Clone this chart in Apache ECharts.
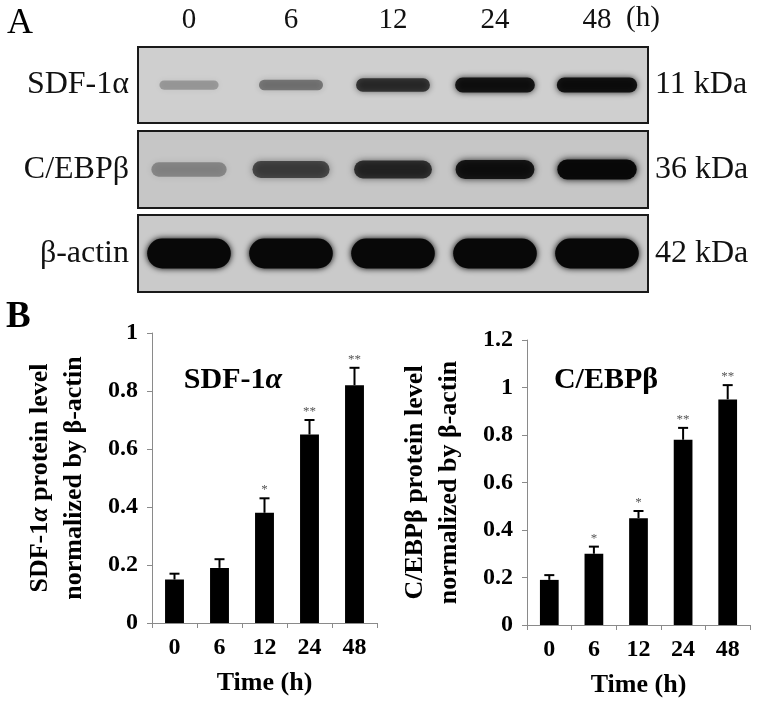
<!DOCTYPE html>
<html>
<head>
<meta charset="utf-8">
<script src="https://cdn.jsdelivr.net/npm/echarts@6/dist/echarts.min.js"></script>
<style>html,body{margin:0;padding:0;background:#fff}#c{width:758px;height:705px}</style>
</head>
<body>
<div id="c"></div>
<script>
// ---- data ----
const lanes = ['0', '6', '12', '24', '48'];
const rowNames = ['SDF-1α', 'C/EBPβ', 'β-actin'];
const rowSizes = ['11 kDa', '36 kDa', '42 kDa'];
// relative band darkness on the blot (0..1)
const sdfBand = [0.25, 0.4, 0.7, 0.88, 0.9];
const cebpBand = [0.3, 0.6, 0.72, 0.88, 0.98];
const actinBand = [1, 1, 1, 1, 1];
// densitometry
const sdfMean = [0.15, 0.19, 0.38, 0.65, 0.82];
const sdfErr = [0.02, 0.03, 0.05, 0.05, 0.06];
const sdfSig = ['', '', '*', '**', '**'];
const cebpMean = [0.19, 0.30, 0.45, 0.78, 0.95];
const cebpErr = [0.02, 0.03, 0.03, 0.05, 0.06];
const cebpSig = ['', '*', '*', '**', '**'];

const SERIF = '"Liberation Serif", "DejaVu Serif", serif';
const chart = echarts.init(document.getElementById('c'), null, {renderer: 'canvas'});

const bandStyles = [
  {w0: 0.5, wk: 0.32, h0: 7, hk: 9, blur: 6},
  {w0: 0.72, wk: 0.06, h0: 12, hk: 8, blur: 7},
  {w0: 0.82, wk: 0, h0: 30, hk: 0, blur: 6}
];
const bands = [sdfBand, cebpBand, actinBand];

function bandRender(st) {
  return function (params, api) {
    const i = api.value(0);
    const v = api.value(2);
    const c = api.coord([i, 0]);
    const laneW = api.size([1, 0])[0];
    const w = laneW * (st.w0 + st.wk * v);
    const h = st.h0 + st.hk * v;
    return {
      type: 'rect',
      shape: {x: c[0] - w / 2, y: c[1] - h / 2, width: w, height: h, r: h / 2},
      style: {fill: 'rgba(8,8,8,' + v + ')', shadowBlur: st.blur, shadowColor: 'rgba(0,0,0,' + v + ')'}
    };
  };
}

function errRender(sig) {
  return function (params, api) {
    const i = api.value(0), m = api.value(1), e = api.value(2);
    const p0 = api.coord([i, m]);
    const p1 = api.coord([i, m + e]);
    const cap = 5;
    return {
      type: 'group',
      children: [
        {type: 'line', shape: {x1: p0[0], y1: p0[1], x2: p1[0], y2: p1[1]}, style: {stroke: '#000', lineWidth: 2}},
        {type: 'line', shape: {x1: p1[0] - cap, y1: p1[1], x2: p1[0] + cap, y2: p1[1]}, style: {stroke: '#000', lineWidth: 2}},
        {type: 'text', x: p1[0], y: p1[1] - 2,
         style: {text: sig[params.dataIndex], fill: '#555', fontSize: 13, fontFamily: SERIF, align: 'center', verticalAlign: 'bottom'}}
      ]
    };
  };
}

const blotTops = [47, 131, 215];
const blotH = [76, 77, 77];
const blotBg = ['#cfcfcf', '#c6c6c6', '#cacaca'];

const grids = [], xAxes = [], yAxes = [], series = [];
for (let r = 0; r < 3; r++) {
  grids.push({left: 138, top: blotTops[r], width: 510, height: blotH[r], show: true,
    backgroundColor: blotBg[r], borderColor: '#1a1a1a', borderWidth: 2});
  xAxes.push({gridIndex: r, type: 'category', data: lanes, position: 'top',
    axisLine: {show: false}, axisTick: {show: false}, splitLine: {show: false},
    axisLabel: {show: r === 0, fontFamily: SERIF, fontSize: 29, color: '#111', margin: 12}});
  yAxes.push({gridIndex: r, type: 'category', data: [rowNames[r]], position: 'left',
    axisLine: {show: false}, axisTick: {show: false}, splitLine: {show: false},
    axisLabel: {fontFamily: SERIF, fontSize: 32, color: '#111', margin: 9}});
  yAxes.push({gridIndex: r, type: 'category', data: [rowSizes[r]], position: 'right',
    axisLine: {show: false}, axisTick: {show: false}, splitLine: {show: false},
    axisLabel: {fontFamily: SERIF, fontSize: 32, color: '#111', margin: 7}});
  series.push({type: 'custom', xAxisIndex: r, yAxisIndex: 2 * r, renderItem: bandRender(bandStyles[r]),
    data: bands[r].map((v, i) => [i, 0, v]), silent: true});
}

// bar charts
const barGrids = [
  {left: 152, top: 333, width: 225, height: 290},
  {left: 527, top: 340, width: 223, height: 285}
];
const yMax = [1, 1.2];
const yNames = [
  '{t|SDF-1}{i|α}{t| protein level}\n{t|normalized by β-actin}',
  '{t|C/EBPβ protein level}\n{t|normalized by β-actin}'
];
const means = [sdfMean, cebpMean], errs = [sdfErr, cebpErr], sigs = [sdfSig, cebpSig];
for (let k = 0; k < 2; k++) {
  grids.push(barGrids[k]);
  xAxes.push({gridIndex: 3 + k, type: 'category', data: lanes, position: 'bottom',
    name: 'Time (h)', nameLocation: 'middle', nameGap: 47,
    nameTextStyle: {fontFamily: SERIF, fontWeight: 'bold', fontSize: 26, color: '#000'},
    axisLine: {lineStyle: {color: '#8a8a8a', width: 1}},
    axisTick: {show: true, alignWithLabel: false, length: 5, lineStyle: {color: '#8a8a8a'}},
    axisLabel: {fontFamily: SERIF, fontWeight: 'bold', fontSize: 24, color: '#000', margin: 13}});
  yAxes.push({gridIndex: 3 + k, type: 'value', min: 0, max: yMax[k], interval: 0.2,
    name: yNames[k], nameLocation: 'middle', nameRotate: 90, nameGap: 61,
    nameTextStyle: {rich: {
      t: {fontFamily: SERIF, fontWeight: 'bold', fontSize: 26, color: '#000', lineHeight: 34},
      i: {fontFamily: SERIF, fontWeight: 'bold', fontStyle: 'italic', fontSize: 26, color: '#000', lineHeight: 34}}},
    axisLine: {show: true, lineStyle: {color: '#8a8a8a', width: 1}},
    axisTick: {show: true, length: 5, lineStyle: {color: '#8a8a8a'}},
    splitLine: {show: false},
    axisLabel: {fontFamily: SERIF, fontWeight: 'bold', fontSize: 24, color: '#000', margin: 14}});
  series.push({type: 'bar', xAxisIndex: 3 + k, yAxisIndex: 6 + k, data: means[k], barWidth: '42%',
    itemStyle: {color: '#000'}, silent: true});
  series.push({type: 'custom', xAxisIndex: 3 + k, yAxisIndex: 6 + k, renderItem: errRender(sigs[k]),
    data: means[k].map((m, i) => [i, m, errs[k][i]]), z: 5, silent: true});
}

chart.setOption({
  animation: false,
  backgroundColor: '#fff',
  grid: grids,
  xAxis: xAxes,
  yAxis: yAxes,
  series: series,
  graphic: [
    {type: 'text', left: 7, top: 6, style: {text: 'A', fontFamily: SERIF, fontSize: 36, fill: '#000'}},
    {type: 'text', left: 626, top: 4, style: {text: '(h)', fontFamily: SERIF, fontSize: 29, fill: '#111'}},
    {type: 'text', left: 6, top: 299, style: {text: 'B', fontFamily: SERIF, fontWeight: 'bold', fontSize: 37, fill: '#000'}},
    {type: 'text', x: 233, y: 380, style: {text: '{t|SDF-1}{i|α}', align: 'center', verticalAlign: 'middle',
      rich: {t: {fontFamily: SERIF, fontWeight: 'bold', fontSize: 30, fill: '#000'},
             i: {fontFamily: SERIF, fontWeight: 'bold', fontStyle: 'italic', fontSize: 30, fill: '#000'}}}},
    {type: 'text', x: 606, y: 380, style: {text: 'C/EBPβ', align: 'center', verticalAlign: 'middle',
      fontFamily: SERIF, fontWeight: 'bold', fontSize: 30, fill: '#000'}}
  ]
});
</script>
</body>
</html>
